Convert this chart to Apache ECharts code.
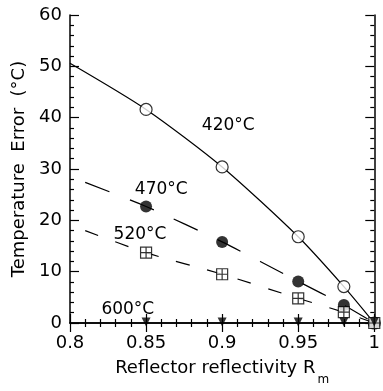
<!DOCTYPE html>
<html><head><meta charset="utf-8">
<script src="https://cdn.jsdelivr.net/npm/echarts@6/dist/echarts.min.js"></script>
<style>html,body{margin:0;padding:0;background:#fff}#c{width:383px;height:391px}</style>
</head><body><div id="c"></div>
<script>
// Data
const reflectivity = [0.85, 0.9, 0.95, 0.98, 1.0];
const err420 = [41.6, 30.4, 16.8, 7.1, 0];
const err420Line = [[0.8, 50.6], [0.85, 41.6], [0.9, 30.4], [0.95, 16.8], [0.98, 7.1], [1.0, 0]];
const err470 = [22.7, 15.8, 8.1, 3.5, 0];
const err470Start = [0.81, 27.4];
const err520 = [13.7, 9.5, 4.8, 2.1, 0];
const err520Start = [0.81, 18.0];
const err600 = [0, 0, 0, 0, 0];
const xTicks = [0.8, 0.85, 0.9, 0.95, 1];
const yTicks = [0, 10, 20, 30, 40, 50, 60];
const labels = [
  {text: '420°C', x: 0.904, y: 38.4},
  {text: '470°C', x: 0.86, y: 25.9},
  {text: '520°C', x: 0.846, y: 17.2},
  {text: '600°C', x: 0.838, y: 2.7}
];

const FONT = 'DejaVu Sans';
const crossSquare = 'path://M0,0H10V10H0Z M5,0V10 M0,5H10';
const pts = (ys) => reflectivity.map((x, i) => [x, ys[i]]);

const chart = echarts.init(document.getElementById('c'));
const axisCommon = {
  type: 'value', min: 0, max: 0,
  axisLine: {show: true, lineStyle: {color: '#000', width: 1.5}},
  axisTick: {show: true, inside: true, length: 9, lineStyle: {color: '#000', width: 1.2}},
  minorTick: {show: true, splitNumber: 5, length: 4, lineStyle: {color: '#000', width: 1.2}},
  splitLine: {show: false}
};
const option = {
  animation: false,
  grid: {left: 70, right: 6, top: 15, bottom: 65},
  xAxis: [
    Object.assign({}, axisCommon, {
      min: 0.8, max: 1.0, interval: 0.05, position: 'bottom',
      axisLabel: {color: '#000', fontSize: 18, fontFamily: FONT, margin: 11,
        formatter: v => { const t = xTicks.find(k => Math.abs(k - v) < 1e-6); return t === undefined ? '' : String(t); }},
      name: '{a|Reflector reflectivity R}{s|m}', nameLocation: 'middle', nameGap: 27,
      nameTextStyle: {rich: {a: {fontSize: 18, fontFamily: FONT, color: '#000'},
        s: {fontSize: 12, fontFamily: FONT, color: '#000', padding: [24, 0, 0, 2]}}}
    }),
    Object.assign({}, axisCommon, {
      min: 0.8, max: 1.0, interval: 0.05, position: 'top', axisLabel: {show: false}
    })
  ],
  yAxis: [
    Object.assign({}, axisCommon, {
      min: 0, max: 60, interval: 10, position: 'left',
      axisLabel: {color: '#000', fontSize: 18, fontFamily: FONT, margin: 8,
        formatter: v => yTicks.includes(v) ? String(v) : ''},
      name: 'Temperature  Error  (°C)', nameLocation: 'middle', nameGap: 39,
      nameTextStyle: {fontSize: 18, fontFamily: FONT, color: '#000'}
    }),
    Object.assign({}, axisCommon, {
      min: 0, max: 60, interval: 10, position: 'right', axisLabel: {show: false}
    })
  ],
  series: [
    {type: 'line', data: err420Line, smooth: 0.25, symbol: 'none',
      lineStyle: {color: '#000', width: 1.2}, z: 2},
    {type: 'line', data: [err470Start].concat(pts(err470)), smooth: 0.25, symbol: 'none',
      lineStyle: {color: '#000', width: 1.2, type: [26, 22], dashOffset: 0}, z: 2},
    {type: 'line', data: [err520Start].concat(pts(err520)), smooth: 0.25, symbol: 'none',
      lineStyle: {color: '#000', width: 1.2, type: [14, 18]}, z: 2},
    {type: 'scatter', data: pts(err420), symbol: 'circle', symbolSize: 12,
      itemStyle: {color: '#fff', borderColor: '#000', borderWidth: 1.2}, z: 5},
    {type: 'scatter', data: pts(err470), symbol: 'circle', symbolSize: 12,
      itemStyle: {color: '#000'}, z: 5},
    {type: 'scatter', data: pts(err520), symbol: crossSquare, symbolSize: 11,
      itemStyle: {color: '#fff', borderColor: '#000', borderWidth: 1.2}, z: 6},
    {type: 'scatter', data: pts(err600), symbol: 'triangle', symbolRotate: 180, symbolSize: [9, 9],
      symbolOffset: [0, -1], itemStyle: {color: '#000'}, z: 7}
  ]
};
chart.setOption(option);
chart.setOption({
  graphic: labels.map(l => {
    const p = chart.convertToPixel({xAxisIndex: 0, yAxisIndex: 0}, [l.x, l.y]);
    return {type: 'text', x: p[0], y: p[1], z: 10,
      style: {text: l.text, fontSize: 17, fontFamily: FONT, fill: '#000', align: 'center', verticalAlign: 'middle'}};
  })
});
</script></body></html>
